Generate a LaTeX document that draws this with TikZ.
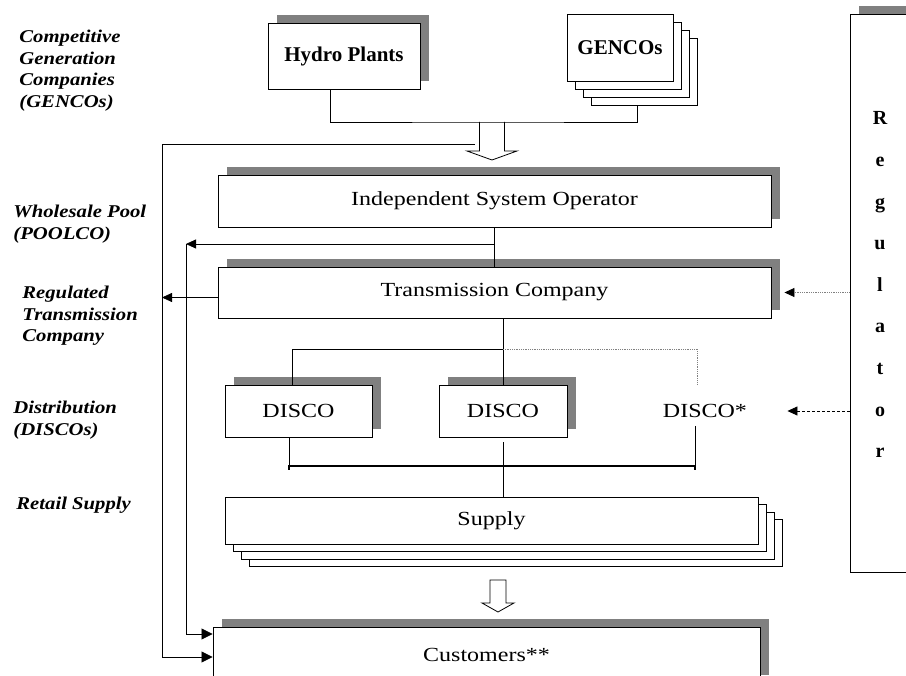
\documentclass[tikz,border=0pt]{standalone}
\usepackage{fontspec}
\setmainfont{Liberation Serif}
\newfontfamily\lblfont{Liberation Serif}[FakeStretch=1.2]
\newfontfamily\sidefont{Liberation Serif}[FakeStretch=1.15]
\usetikzlibrary{arrows.meta,shadows}
\definecolor{shadowgray}{RGB}{128,128,128}

\tikzset{
  block/.style={draw, fill=white, line width=0.9pt, inner sep=0pt,
    font={\lblfont\fontsize{20}{24}\selectfont}},
  boldlbl/.style={font={\bfseries\fontsize{21}{25}\selectfont}},
  shadowed/.style={drop shadow={shadow xshift=9pt, shadow yshift=8pt,
    fill=shadowgray, opacity=1}},
  pile/.style={copy shadow={shadow xshift=24pt, shadow yshift=-3*#1},
    copy shadow={shadow xshift=16pt, shadow yshift=-2*#1},
    copy shadow={shadow xshift=8pt, shadow yshift=-#1}},
  sidelbl/.style={anchor=north west, align=left, inner sep=0pt,
    font={\sidefont\bfseries\itshape\fontsize{18}{21.5}\selectfont}},
  regletter/.style={anchor=base, inner sep=0pt,
    font={\bfseries\fontsize{20}{24}\selectfont}},
  bigtip/.style={-{Triangle[length=11pt,width=11pt]}}
}

\begin{document}
\begin{tikzpicture}[x=1pt, y=-1pt, line width=0.8pt,
    >={Triangle[length=10pt,width=9pt]}]
    \useasboundingbox (0,0) rectangle (906,676);
    \clip (0,0) rectangle (906,676);

    % market levels on the left
    \node[sidelbl] (lgen) at (19,29.7) {Competitive\\Generation\\Companies\\(GENCOs)};
    \node[sidelbl] (lpool) at (13,204.7) {Wholesale Pool\\(POOLCO)};
    \node[sidelbl] (ltrans) at (22,285.7) {Regulated\\Transmission\\Company};
    \node[sidelbl] (ldist) at (13,400.7) {Distribution\\(DISCOs)};
    \node[sidelbl] (lretail) at (16,496.7) {Retail Supply};

    % boxes
    \node[block, boldlbl, shadowed, minimum width=152pt, minimum height=66pt] (hydro) at (344,56) {Hydro Plants};
    \node[block, boldlbl, pile=8pt, minimum width=106pt, minimum height=67pt] (gencos) at (620,47.5) {GENCOs};
    \node[block, shadowed, minimum width=553pt, minimum height=52pt] (iso) at (494.5,201) {Independent System Operator};
    \node[block, shadowed, minimum width=553pt, minimum height=51pt] (trans) at (494.5,292.5) {Transmission Company};
    \node[block, shadowed, minimum width=147pt, minimum height=52pt] (disco1) at (298.5,411) {DISCO};
    \node[block, shadowed, minimum width=128pt, minimum height=52pt] (disco2) at (503,411) {DISCO};
    \node[block, draw=none, fill=none, minimum width=150pt, minimum height=52pt] (disco3) at (705,411) {DISCO*};
    \node[block, pile=7.5pt, minimum width=533pt, minimum height=47pt] (supply) at (491.5,520.5) {Supply};
    \node[block, shadowed, minimum width=547pt, minimum height=56pt] (cust) at (486.5,655) {Customers**};
    \node[block, shadowed, minimum width=66pt, minimum height=558pt] (reg) at (883,293) {};
    \foreach \ch [count=\i] in {R,e,g,u,l,a,t,o,r}
        \node[regletter] (reg\i) at (880,{125+41.6*(\i-1)}) {\ch};

    % generation into the pool
    \coordinate (top) at (492,122);
    \begin{scope}[shift={(top)}]
        \draw[fill=white] (-12.5,0) -- (-12.5,29) -- (-25,29) -- (0,38) -- (25,29) -- (12.5,29) -- (12.5,0);
    \end{scope}
    \draw ([xshift=-14pt]hydro.south) |- (top) -| ([shift={(17pt,-24pt)}]gencos.south);

    % bypass lines to the customers
    \coordinate (feed) at (475,144);
    \coordinate (outer) at (162,144);
    \coordinate (inner) at (186,244);
    \coordinate (tw) at ([yshift=-5pt]trans.west);
    \draw[bigtip] (feed) -- (outer) |- ([yshift=-2pt]cust.west);
    \draw (iso.south) -- (trans.north);
    \draw[->] (iso.south |- inner) -- (inner);
    \draw[bigtip] (inner) |- ([yshift=21pt]cust.west);
    \draw[->] (tw) -- (outer |- tw);

    % transmission to distribution
    \coordinate (split) at (disco2.north |- 0,349);
    \draw (disco2.north |- trans.south) -- (disco2.north);
    \draw ([xshift=-6pt]disco1.north) |- (split);
    \draw[densely dotted, gray] (split) -| ([xshift=-8pt]disco3.north);

    % distribution to supply
    \coordinate (busL) at (289,466);
    \coordinate (busR) at (695,466);
    \draw (busL |- disco1.south) -- (busL);
    \draw (busR |- 0,426) -- (busR);
    \draw[line width=1.3pt] ([yshift=-4pt]busL) -- (busL) -- (busR) -- ([yshift=-4pt]busR);
    \draw ([yshift=-5pt]disco2.south) -- (disco2.south |- supply.north);

    \coordinate (down) at (498,580);
    \begin{scope}[shift={(down)}]
        \draw[fill=white] (-8,0) -- (-8,23) -- (-16,23) -- (0,32) -- (16,23) -- (8,23) -- (8,0) -- cycle;
    \end{scope}

    % regulator
    \draw[densely dotted, gray, -{Triangle[length=10pt,width=9pt,color=black]}] (reg.west |- trans.east) -- ([xshift=13pt]trans.east);
    \draw[densely dashed, ->] (reg.west |- disco3.east) -- ([xshift=7pt]disco3.east);
\end{tikzpicture}
\end{document}
